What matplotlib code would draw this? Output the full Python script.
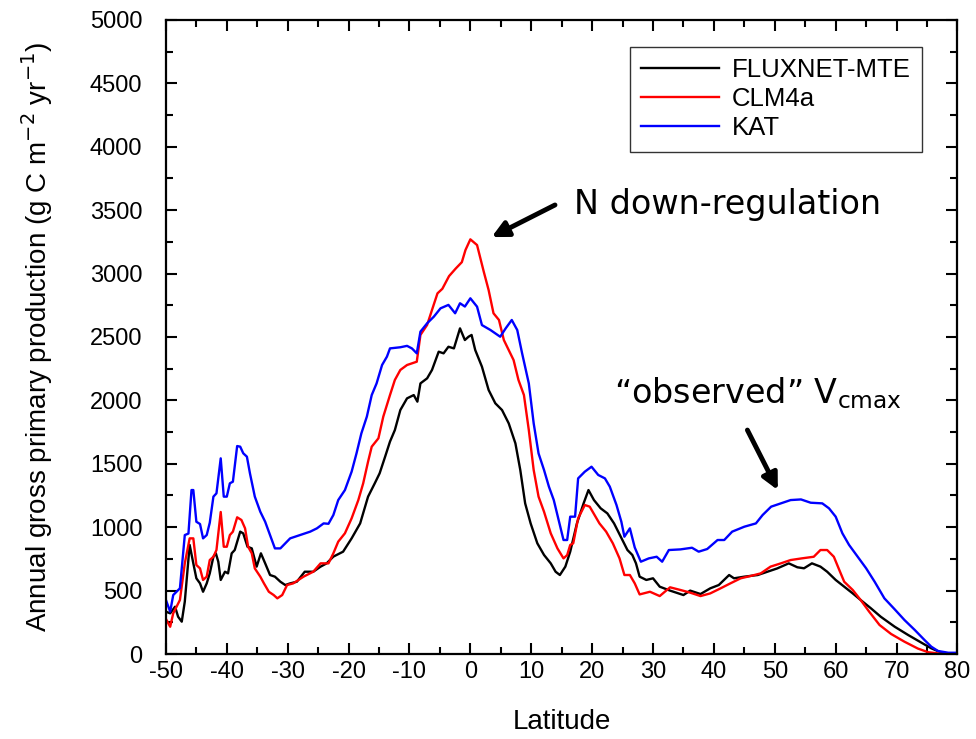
import matplotlib
matplotlib.use("Agg")
import matplotlib.pyplot as plt
from matplotlib.ticker import MultipleLocator

plt.rcParams['font.family'] = ['Liberation Sans', 'DejaVu Sans']
plt.rcParams['axes.unicode_minus'] = False

# FLUXNET-MTE (black)
lat_mte = [-50, -49.3, -48.5, -48.0, -47.4, -46.9, -46.1, -45.5, -45.0, -44.4,
           -43.9, -43.3, -42.8, -42.2, -41.8, -41.4, -41.0, -40.3, -39.8, -39.2,
           -38.7, -37.8, -37.3, -36.6, -35.9, -35.1, -34.4, -33.7, -32.9, -32.1,
           -31.2, -30.4, -29.6, -28.5, -27.2, -25.8, -24.6, -23.6, -22.5, -20.9,
           -19.5, -18.1, -16.8, -15.7, -14.9, -14.0, -13.2, -12.4, -11.5, -10.4,
           -9.3, -8.7, -8.2, -7.1, -6.3, -5.2, -4.4, -3.6, -2.7, -1.7,
           -0.9, -0.3, 0.2, 0.8, 1.9, 3.0, 4.1, 5.2, 6.3, 7.4,
           8.2, 9.0, 9.9, 11.0, 12.1, 13.2, 14.0, 14.7, 15.6, 16.4,
           17.5, 18.6, 19.4, 20.3, 21.4, 22.5, 23.6, 24.7, 25.8, 26.6,
           27.2, 27.8, 28.9, 30.0, 31.1, 32.8, 35.0, 36.1, 37.8, 39.4,
           40.8, 42.5, 43.3, 45.0, 47.2, 48.8, 50.4, 52.3, 53.7, 54.8,
           56.1, 57.5, 58.6, 60.0, 61.4, 62.8, 64.1, 65.8, 67.4, 69.7,
           71.9, 74.1, 75.7, 77.4, 78.5]
gpp_mte = [334, 321, 373, 294, 255, 413, 860, 715, 597, 557,
           491, 557, 636, 767, 794, 728, 584, 649, 636, 794,
           820, 965, 951, 846, 833, 689, 794, 715, 623, 610,
           570, 544, 557, 570, 649, 649, 689, 715, 768, 807,
           912, 1030, 1241, 1346, 1425, 1556, 1675, 1766, 1924, 2016,
           2042, 1990, 2134, 2174, 2240, 2384, 2371, 2423, 2410, 2568,
           2476, 2502, 2516, 2397, 2266, 2082, 1977, 1924, 1819, 1661,
           1451, 1188, 1030, 873, 781, 715, 649, 623, 689, 807,
           1030, 1188, 1293, 1214, 1149, 1109, 1030, 925, 820, 781,
           715, 610, 584, 597, 531, 500, 465, 500, 473, 518,
           544, 623, 597, 610, 623, 649, 675, 715, 684, 676,
           715, 689, 649, 584, 531, 478, 426, 360, 294, 215,
           150, 89, 45, 10, 0]

# CLM4a (red)
lat_clm = [-49.9, -49.3, -48.8, -47.7, -46.9, -46.1, -45.5, -45.0, -44.4, -43.9,
           -43.3, -42.8, -42.2, -41.7, -41.0, -40.5, -40.0, -39.5, -39.0, -38.3,
           -37.6, -37.0, -36.5, -35.9, -35.4, -34.5, -33.9, -33.1, -32.3, -31.7,
           -30.9, -30.1, -29.1, -27.4, -25.8, -24.6, -23.3, -22.5, -21.7, -20.6,
           -19.5, -18.4, -17.6, -16.8, -16.2, -15.1, -14.3, -13.2, -12.4, -11.5,
           -10.4, -8.8, -8.2, -7.1, -6.3, -5.4, -4.6, -3.5, -2.4, -1.4,
           -0.8, 0.0, 1.1, 2.2, 3.0, 3.8, 4.7, 5.5, 6.3, 7.1,
           7.9, 8.8, 9.6, 10.4, 11.2, 12.1, 13.2, 14.3, 15.3, 15.9,
           16.4, 16.9, 17.7, 18.8, 19.6, 20.4, 21.2, 22.3, 23.4, 24.5,
           25.3, 26.2, 27.0, 27.8, 29.5, 31.1, 32.8, 34.5, 36.1, 37.8,
           39.4, 41.1, 42.7, 44.4, 46.0, 47.7, 49.3, 51.0, 52.6, 54.4,
           56.4, 57.5, 58.6, 59.7, 60.6, 61.4, 62.8, 64.1, 65.5, 67.2,
           69.1, 71.3, 73.5, 75.2, 76.8, 77.6]
gpp_clm = [268, 215, 321, 426, 715, 912, 912, 702, 675, 584,
           610, 741, 767, 820, 1120, 846, 846, 938, 965, 1078,
           1057, 991, 846, 794, 675, 610, 557, 491, 465, 439,
           465, 544, 557, 610, 649, 715, 715, 794, 886, 952,
           1070, 1214, 1346, 1517, 1635, 1701, 1872, 2042, 2161, 2240,
           2279, 2305, 2516, 2595, 2713, 2844, 2880, 2980, 3040, 3090,
           3186, 3270, 3225, 3015, 2870, 2687, 2634, 2476, 2397, 2318,
           2161, 2042, 1766, 1451, 1241, 1122, 952, 833, 754, 780,
           860, 873, 1070, 1175, 1162, 1096, 1030, 965, 873, 754,
           623, 623, 557, 470, 491, 457, 526, 505, 484, 457,
           478, 518, 557, 597, 615, 636, 689, 715, 741, 754,
           767, 820, 820, 767, 662, 570, 505, 426, 334, 229,
           158, 97, 43, 14, 5, 0]

# KAT (blue)
lat_kat = [-50.0, -49.3, -48.8, -47.7, -46.9, -46.3, -45.8, -45.5, -45.0, -44.4,
           -43.9, -43.3, -42.8, -42.2, -41.7, -41.0, -40.5, -40.0, -39.5, -39.0,
           -38.3, -37.8, -37.3, -36.7, -36.2, -35.4, -34.5, -33.7, -32.9, -32.1,
           -31.2, -30.4, -29.6, -28.0, -26.3, -25.2, -24.1, -23.3, -22.5, -21.7,
           -20.6, -19.5, -18.7, -17.9, -17.0, -16.2, -15.4, -14.5, -13.7, -13.2,
           -11.5, -10.4, -9.6, -8.8, -8.2, -7.1, -6.0, -4.9, -3.6, -2.5,
           -1.7, -0.9, 0.0, 1.1, 1.9, 3.3, 4.9, 5.8, 6.8, 7.7,
           8.5, 9.6, 10.4, 11.2, 12.1, 12.9, 13.7, 14.5, 15.3, 15.9,
           16.4, 17.2, 17.7, 18.8, 19.9, 21.0, 22.1, 22.9, 24.0, 24.8,
           25.3, 26.2, 27.0, 28.0, 29.3, 30.6, 31.5, 32.6, 34.5, 36.4,
           37.5, 38.9, 40.6, 41.7, 43.0, 45.0, 46.9, 48.0, 49.4, 51.0,
           52.6, 54.3, 55.9, 57.8, 58.9, 60.0, 61.1, 62.2, 63.6, 65.0,
           66.4, 68.0, 69.7, 71.3, 73.0, 74.6, 75.7, 76.8, 78.5, 79.8]
gpp_kat = [426, 334, 465, 518, 938, 950, 1293, 1293, 1043, 1025,
           912, 938, 1035, 1241, 1267, 1543, 1241, 1241, 1346, 1359,
           1640, 1635, 1583, 1556, 1425, 1241, 1122, 1043, 938, 833,
           833, 873, 912, 938, 965, 991, 1030, 1027, 1096, 1214,
           1293, 1438, 1582, 1740, 1872, 2042, 2134, 2279, 2345, 2410,
           2419, 2430, 2410, 2371, 2542, 2608, 2660, 2726, 2753, 2687,
           2766, 2740, 2805, 2739, 2594, 2555, 2502, 2568, 2634, 2555,
           2371, 2134, 1819, 1582, 1451, 1320, 1214, 1057, 899, 899,
           1083, 1083, 1385, 1438, 1477, 1412, 1385, 1320, 1175, 1043,
           925, 991, 840, 728, 754, 767, 728, 820, 825, 838,
           807, 828, 899, 899, 965, 1004, 1030, 1096, 1162, 1188,
           1214, 1219, 1193, 1188, 1149, 1083, 952, 860, 768, 676,
           570, 439, 352, 268, 189, 110, 58, 24, 10, 10]

fig = plt.figure(figsize=(9.76, 7.39), dpi=100)
ax = fig.add_axes([0.170, 0.115, 0.811, 0.858])

ax.plot(lat_mte, gpp_mte, color='black', lw=1.7, label='FLUXNET-MTE')
ax.plot(lat_clm, gpp_clm, color='#ff0000', lw=1.7, label='CLM4a')
ax.plot(lat_kat, gpp_kat, color='#0000ff', lw=1.7, label='KAT')

ax.set_xlim(-50, 80)
ax.set_ylim(0, 5000)
ax.xaxis.set_major_locator(MultipleLocator(10))
ax.xaxis.set_minor_locator(MultipleLocator(5))
ax.yaxis.set_major_locator(MultipleLocator(500))
ax.yaxis.set_minor_locator(MultipleLocator(250))
ax.tick_params(which='both', direction='in', top=True, right=True, width=1.5)
ax.tick_params(which='major', length=8, labelsize=17)
ax.tick_params(axis='x', which='major', pad=5)
ax.tick_params(axis='y', which='major', pad=17)
ax.tick_params(which='minor', length=5)
for s in ax.spines.values():
    s.set_linewidth(1.6)

ax.set_xlabel('Latitude', fontsize=20, labelpad=19)
ax.set_ylabel('Annual gross primary production (g C m$^{-2}$ yr$^{-1}$)',
              fontsize=20, labelpad=25)

leg = ax.legend(loc='upper right', bbox_to_anchor=(0.955, 0.958), fontsize=18.5,
                handlelength=3.0, frameon=True, fancybox=False, borderpad=0.45,
                labelspacing=0.2, handletextpad=0.5, borderaxespad=0)
leg.get_frame().set_edgecolor('black')
leg.get_frame().set_linewidth(1.0)

# annotations
ax.annotate('', xy=(3.5, 3288), xytext=(13.9, 3541),
            arrowprops=dict(arrowstyle='-|>', color='black', lw=3.5,
                            mutation_scale=24, shrinkA=0, shrinkB=0))
ax.text(17.0, 3541, 'N down-regulation', fontsize=24, ha='left', va='center',
        family='DejaVu Sans')

ax.annotate('', xy=(50.5, 1293), xytext=(45.5, 1766),
            arrowprops=dict(arrowstyle='-|>', color='black', lw=3.5,
                            mutation_scale=24, shrinkA=0, shrinkB=0))
ax.text(23.6, 2058, '\u201cobserved\u201d V$_{\\rm cmax}$', fontsize=24,
        ha='left', va='center', family='DejaVu Sans')

fig.savefig('out.png', dpi=100)
